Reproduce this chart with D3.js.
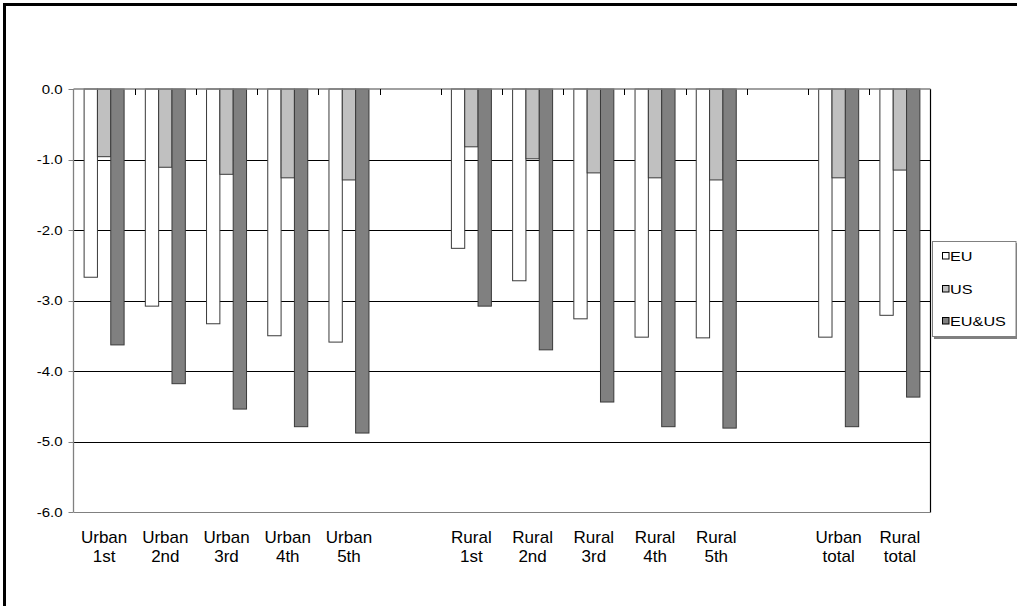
<!DOCTYPE html>
<html>
<head>
<meta charset="utf-8">
<script src="https://cdn.jsdelivr.net/npm/d3@7/dist/d3.min.js"></script>
<style>
  html, body { margin: 0; padding: 0; background: #fff; }
  svg { display: block; }
  text { font-family: "Liberation Sans", Arial, sans-serif; fill: #000; }
</style>
</head>
<body>
<svg id="chart" width="1017" height="606"></svg>
<script>
// ---- data ----
const categories = ["Urban\n1st", "Urban\n2nd", "Urban\n3rd", "Urban\n4th", "Urban\n5th", "",
                    "Rural\n1st", "Rural\n2nd", "Rural\n3rd", "Rural\n4th", "Rural\n5th", " ",
                    "Urban\ntotal", "Rural\ntotal"];
const seriesNames = ["EU", "US", "EU&US"];
const euValues   = [-2.67, -3.08, -3.33, -3.50, -3.59, null, -2.26, -2.72, -3.26, -3.52, -3.53, null, -3.52, -3.21];
const usValues   = [-0.96, -1.11, -1.21, -1.26, -1.29, null, -0.82, -0.99, -1.19, -1.26, -1.29, null, -1.26, -1.15];
const euusValues = [-3.63, -4.18, -4.54, -4.79, -4.88, null, -3.08, -3.70, -4.44, -4.79, -4.81, null, -4.79, -4.37];
const yTicks = [0, -1, -2, -3, -4, -5, -6];
const seriesColors = ["#ffffff", "#c0c0c0", "#808080"];

const seriesValues = [euValues, usValues, euusValues];

const svg = d3.select("#chart");

// outer frame
svg.append("rect")
  .attr("x", 4.5).attr("y", 4.5).attr("width", 1030).attr("height", 620)
  .attr("fill", "none").attr("stroke", "#000").attr("stroke-width", 3);

const x = d3.scaleBand().domain(d3.range(categories.length)).range([73.5, 930.5]).paddingInner(0).paddingOuter(0);
const y = d3.scaleLinear().domain([-6, 0]).range([512, 89]);

const groupW = 40;
const sub = d3.scaleBand().domain(seriesNames).range([0, groupW]).padding(0);

// gridlines (behind bars)
svg.append("g").selectAll("line")
  .data(yTicks.filter(d => d !== 0 && d !== -6))
  .join("line")
  .attr("x1", x.range()[0]).attr("x2", x.range()[1])
  .attr("y1", d => Math.round(y(d)) + 0.5).attr("y2", d => Math.round(y(d)) + 0.5)
  .attr("stroke", "#000").attr("stroke-width", 1);

// plot border: right black, bottom gray
svg.append("line")
  .attr("x1", x.range()[1]).attr("x2", x.range()[1])
  .attr("y1", y(0)).attr("y2", y(-6) + 0.5)
  .attr("stroke", "#000").attr("stroke-width", 1.2);
svg.append("line")
  .attr("x1", x.range()[0]).attr("x2", x.range()[1])
  .attr("y1", Math.round(y(-6)) + 0.5).attr("y2", Math.round(y(-6)) + 0.5)
  .attr("stroke", "#808080").attr("stroke-width", 1.2);

// bars
const groups = svg.append("g").selectAll("g")
  .data(categories.map((c, i) => ({ c, i })))
  .join("g")
  .attr("transform", d => `translate(${x(d.i) + (x.bandwidth() - groupW) / 2},0)`);

groups.selectAll("rect")
  .data(d => seriesNames.map((s, k) => ({ s, k, v: seriesValues[k][d.i] })).filter(e => e.v != null))
  .join("rect")
  .attr("x", e => sub(e.s))
  .attr("width", sub.bandwidth())
  .attr("y", y(0))
  .attr("height", e => y(e.v) - y(0))
  .attr("fill", e => seriesColors[e.k])
  .attr("stroke", "#3a3a3a")
  .attr("stroke-width", 1);

// x axis at zero (top), with tick marks pointing down
const xAxisG = svg.append("g");
xAxisG.append("line")
  .attr("x1", x.range()[0]).attr("x2", x.range()[1])
  .attr("y1", y(0)).attr("y2", y(0))
  .attr("stroke", "#808080").attr("stroke-width", 1.5);
xAxisG.selectAll("line.tick")
  .data(d3.range(1, categories.length))
  .join("line")
  .attr("class", "tick")
  .attr("x1", i => Math.round(x(i)) + 0.5).attr("x2", i => Math.round(x(i)) + 0.5)
  .attr("y1", y(0)).attr("y2", y(0) + 6)
  .attr("stroke", "#000").attr("stroke-width", 1);

// y axis
const yAxisG = svg.append("g").attr("transform", `translate(${x.range()[0]},0)`);
yAxisG.append("line")
  .attr("x1", 0).attr("x2", 0).attr("y1", y(0)).attr("y2", y(-6))
  .attr("stroke", "#808080").attr("stroke-width", 1.3);
yAxisG.selectAll("line.tick")
  .data(yTicks).join("line").attr("class", "tick")
  .attr("x1", -5).attr("x2", 0)
  .attr("y1", d => Math.round(y(d)) + 0.5).attr("y2", d => Math.round(y(d)) + 0.5)
  .attr("stroke", "#808080").attr("stroke-width", 1);
yAxisG.selectAll("text")
  .data(yTicks).join("text")
  .attr("transform", d => `translate(-11,${y(d) + 4.5}) scale(1.25,1)`)
  .attr("text-anchor", "end")
  .style("font-size", "12px")
  .text(d => d3.format(".1f")(d).replace("\u2212", "-"));

// category labels
const lab = svg.append("g").selectAll("text")
  .data(categories.map((c, i) => ({ c, i })).filter(d => d.c.trim() !== ""))
  .join("text")
  .attr("text-anchor", "middle")
  .style("font-size", "17px");
lab.each(function(d) {
  const lines = d.c.split("\n");
  const t = d3.select(this);
  lines.forEach((ln, j) => {
    t.append("tspan")
      .attr("x", x(d.i) + x.bandwidth() / 2)
      .attr("y", 543 + j * 19)
      .text(ln);
  });
});

// legend
const lg = svg.append("g");
lg.append("rect").attr("x", 934).attr("y", 243).attr("width", 84).attr("height", 96)
  .attr("fill", "#808080");
lg.append("rect").attr("x", 932.5).attr("y", 241.5).attr("width", 83.5).attr("height", 95)
  .attr("fill", "#fff").attr("stroke", "#808080").attr("stroke-width", 1);
const legendY = [256, 289, 321];
seriesNames.forEach((s, k) => {
  lg.append("rect")
    .attr("x", 942.5).attr("y", legendY[k] - 3.5).attr("width", 6.5).attr("height", 6.5)
    .attr("fill", seriesColors[k]).attr("stroke", "#000").attr("stroke-width", 1);
  lg.append("text")
    .attr("transform", `translate(950,${legendY[k] + 4.5}) scale(1.3,1)`)
    .style("font-size", "12.5px")
    .text(s);
});
</script>
</body>
</html>
